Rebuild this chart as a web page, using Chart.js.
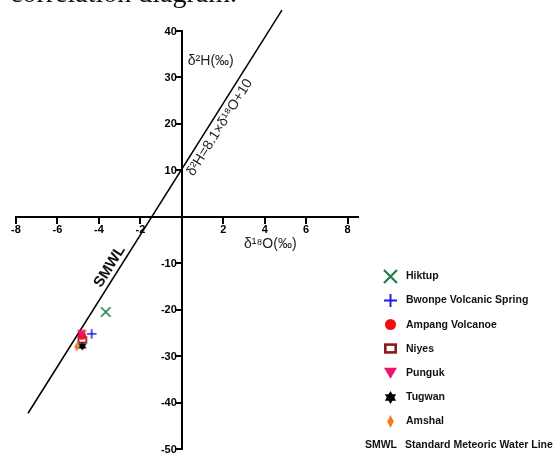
<!DOCTYPE html>
<html><head><meta charset="utf-8">
<script src="https://cdn.jsdelivr.net/npm/chart.js@4.4.0/dist/chart.umd.min.js"></script>
<style>
html,body{margin:0;padding:0;background:#fff;overflow:hidden;}
#wrap{position:relative;width:553px;height:457px;overflow:hidden;}
#cap{position:absolute;left:10px;top:-21px;font:28px/28px "Liberation Serif","Times New Roman",serif;color:#111;white-space:nowrap;}
canvas{position:absolute;left:0;top:0;}
</style></head><body>
<div id="wrap"><canvas id="c" width="553" height="457"></canvas><div id="cap">correlation diagram.</div></div>
<script>
// ---- data ----
const seriesNames = ['Hiktup','Bwonpe Volcanic Spring','Ampang Volcanoe','Niyes','Punguk','Tugwan','Amshal'];
const d18O = [-3.67, -4.35, -4.82, -4.8, -4.83, -4.8, -5.07];
const d2H  = [-20.5, -25.2, -25.6, -26.5, -25.1, -27.8, -28.0];
const smwlX = [-7.42, 4.83];
const smwlY = [-42.3, 44.5];
const xTicks = [-8, -6, -4, -2, 2, 4, 6, 8];
const yTicks = [40, 30, 20, 10, -10, -20, -30, -40, -50];
const xTitle = 'δ¹⁸O(‰)';
const yTitle = 'δ²H(‰)';
const eqLabel = 'δ²H=8.1×δ¹⁸O+10';
const lineLabel = 'SMWL';
const lineLegend = 'Standard Meteoric Water Line';

const shapes = ['x','plus','circle','rect','tri','star6','diamond'];
const colors = ['#1e8048','#1f1fd6','#ee1111','#8b1c1c','#ea1670','#000000','#f07b20'];

function marker(type, size, color) {
  const pad = 3;
  const w = Math.ceil(size + pad*2);
  const c = document.createElement('canvas');
  c.width = w; c.height = w;
  const g = c.getContext('2d');
  const m = w/2, r = size/2;
  g.strokeStyle = color; g.fillStyle = color;
  g.lineCap = 'butt';
  g.beginPath();
  switch (type) {
    case 'x':
      g.lineWidth = Math.max(1.5, size*0.17);
      g.moveTo(m-r, m-r); g.lineTo(m+r, m+r);
      g.moveTo(m+r, m-r); g.lineTo(m-r, m+r);
      g.stroke(); break;
    case 'plus':
      g.lineWidth = Math.max(1.5, size*0.15);
      g.moveTo(m-r, m); g.lineTo(m+r, m);
      g.moveTo(m, m-r); g.lineTo(m, m+r);
      g.stroke(); break;
    case 'circle':
      g.arc(m, m, r*0.85, 0, Math.PI*2); g.fill(); break;
    case 'rect': {
      const lw = Math.max(1.5, size*0.2);
      g.lineWidth = lw;
      const h = size*0.8;
      g.strokeRect(m-r+lw/2, m-h/2+lw/2, size-lw, h-lw); break;
    }
    case 'tri':
      g.moveTo(m-r, m-r*0.75); g.lineTo(m+r, m-r*0.75); g.lineTo(m, m+r*0.95);
      g.closePath(); g.fill(); break;
    case 'star6':
      g.moveTo(m, m-r); g.lineTo(m+r*0.87, m+r*0.5); g.lineTo(m-r*0.87, m+r*0.5); g.closePath();
      g.fill();
      g.beginPath();
      g.moveTo(m, m+r); g.lineTo(m-r*0.87, m-r*0.5); g.lineTo(m+r*0.87, m-r*0.5); g.closePath();
      g.fill(); break;
    case 'diamond':
      g.moveTo(m, m-r); g.lineTo(m+r*0.5, m); g.lineTo(m, m+r); g.lineTo(m-r*0.5, m);
      g.closePath(); g.fill(); break;
  }
  return c;
}

const plotMarkers = shapes.map((s,i) => marker(s, 9.5, colors[i]));
const legendMarkers = shapes.map((s,i) => marker(s, 13, colors[i]));

const FONT = '"Liberation Sans", Arial, sans-serif';

const annot = {
  id: 'annot',
  afterDatasetsDraw(chart) {
    const {x, y} = chart.scales;
    const ctx = chart.ctx;
    ctx.save();
    // y tick labels, placed left of the tick marks
    ctx.fillStyle = '#000';
    ctx.font = 'bold 11px ' + FONT;
    ctx.textAlign = 'right';
    ctx.textBaseline = 'middle';
    const ax = x.getPixelForValue(0);
    yTicks.forEach(v => ctx.fillText(String(v), ax - 5, y.getPixelForValue(v) + 0.5));

    ctx.fillStyle = '#222';
    ctx.font = '14px ' + FONT;
    ctx.textAlign = 'left';
    ctx.fillText(yTitle, ax + 6, y.getPixelForValue(33.5));
    ctx.fillText(xTitle, x.getPixelForValue(3), y.getPixelForValue(-5.9));

    const p0x = x.getPixelForValue(smwlX[0]), p0y = y.getPixelForValue(smwlY[0]);
    const p1x = x.getPixelForValue(smwlX[1]), p1y = y.getPixelForValue(smwlY[1]);
    const ang = Math.atan2(p1y - p0y, p1x - p0x);
    function along(t, off, txt, font) {
      const cx = p0x + (p1x - p0x) * t, cy = p0y + (p1y - p0y) * t;
      ctx.save();
      ctx.translate(cx, cy);
      ctx.rotate(ang);
      ctx.font = font;
      ctx.textAlign = 'center';
      ctx.textBaseline = 'middle';
      ctx.fillText(txt, 0, off);
      ctx.restore();
    }
    along(0.722, 10, eqLabel, '14px ' + FONT);
    ctx.fillStyle = '#111';
    along(0.352, -9, lineLabel, 'bold 15px ' + FONT);
    ctx.restore();
  }
};

const sideLegend = {
  id: 'sideLegend',
  afterDraw(chart) {
    const ctx = chart.ctx;
    ctx.save();
    ctx.font = 'bold 10.5px ' + FONT;
    ctx.textBaseline = 'middle';
    ctx.fillStyle = '#111';
    seriesNames.forEach((n, i) => {
      const yy = 276.5 + i * 24.1;
      const img = legendMarkers[i];
      ctx.drawImage(img, Math.round(390 - img.width/2), Math.round(yy - img.height/2));
      ctx.textAlign = 'left';
      ctx.fillText(n, 406, yy);
    });
    const yy = 276.5 + 7 * 24.1;
    ctx.textAlign = 'right';
    ctx.fillText(lineLabel, 397, yy);
    ctx.textAlign = 'left';
    ctx.fillText(lineLegend, 405, yy);
    ctx.restore();
  }
};

const tickFont = {family: FONT, size: 11, weight: 'bold'};

const datasets = seriesNames.map((n, i) => ({
  label: n,
  data: [{x: d18O[i], y: d2H[i]}],
  pointStyle: plotMarkers[i],
  pointRadius: 5,
  showLine: false,
  order: n === 'Punguk' ? 0 : 1
}));
datasets.push({
  label: lineLabel,
  data: smwlX.map((v, i) => ({x: v, y: smwlY[i]})),
  showLine: true,
  borderColor: '#000',
  borderWidth: 1.5,
  pointRadius: 0,
  fill: false,
  clip: false,
  order: 2
});

new Chart(document.getElementById('c'), {
  type: 'scatter',
  data: {datasets},
  options: {
    responsive: false,
    animation: false,
    devicePixelRatio: 1,
    layout: {padding: {left: 16, top: 31, right: 195, bottom: 8}},
    plugins: {legend: {display: false}, tooltip: {enabled: false}},
    scales: {
      x: {
        type: 'linear', min: -8, max: 8.5, position: {y: 0},
        afterBuildTicks: s => { s.ticks = xTicks.map(v => ({value: v})); },
        grid: {display: true, drawOnChartArea: false, drawTicks: true, tickLength: 6, color: '#000', lineWidth: 2},
        border: {display: true, color: '#000', width: 2},
        ticks: {color: '#000', font: tickFont, padding: 1, maxRotation: 0, autoSkip: false}
      },
      y: {
        type: 'linear', min: -50, max: 40, position: {x: 0},
        afterBuildTicks: s => { s.ticks = yTicks.map(v => ({value: v})); },
        grid: {display: true, drawOnChartArea: false, drawTicks: true, tickLength: 5, color: '#000', lineWidth: 2},
        border: {display: true, color: '#000', width: 2},
        ticks: {display: false}
      }
    }
  },
  plugins: [annot, sideLegend]
});
</script>
</body></html>
